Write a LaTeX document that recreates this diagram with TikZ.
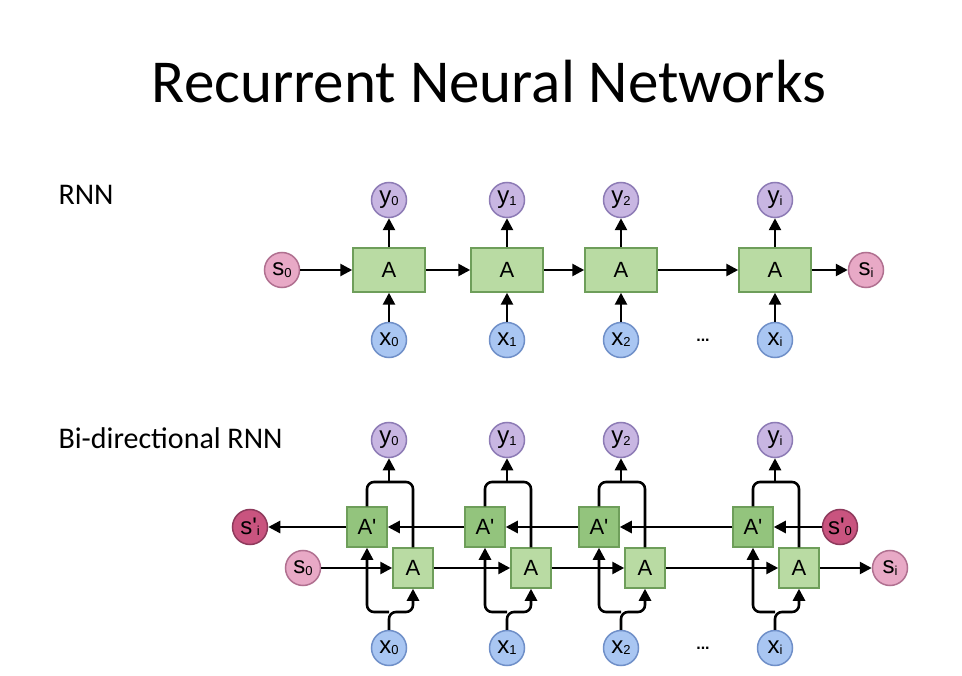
\documentclass[tikz,border=0pt]{standalone}
\usepackage{fontspec}
\setmainfont{Carlito}
\newfontfamily\nodefont{Liberation Sans}
\usetikzlibrary{positioning,arrows.meta}
\definecolor{cellA}{HTML}{B9DBA3}
\definecolor{cellAb}{HTML}{93C47D}
\definecolor{cellB}{HTML}{6E9E5A}
\definecolor{outc}{HTML}{C8B6E2}
\definecolor{outb}{HTML}{8D7BB5}
\definecolor{inc}{HTML}{A9C6F2}
\definecolor{inb}{HTML}{6F8FC8}
\definecolor{stc}{HTML}{E8A9C6}
\definecolor{stb}{HTML}{B07090}
\definecolor{stdc}{HTML}{C9547F}
\definecolor{stdb}{HTML}{8E3A5C}
\tikzset{
  cell/.style={draw=cellB,fill=cellA,line width=1.5pt,minimum width=72pt,minimum height=44pt,font=\nodefont\fontsize{22}{22}\selectfont,inner sep=0pt},
  bcell/.style={cell,minimum width=40pt,minimum height=40pt},
  bcellr/.style={bcell,fill=cellAb},
  outn/.style={circle,draw=outb,fill=outc,line width=1.5pt,minimum size=35pt,inner sep=0pt,font=\nodefont\fontsize{24}{24}\selectfont},
  inn/.style={outn,draw=inb,fill=inc},
  stn/.style={outn,draw=stb,fill=stc},
  stdn/.style={outn,draw=stdb,fill=stdc},
  link/.style={-{Triangle[length=12pt,width=12pt]},line width=2.6pt,rounded corners=7pt}
}
\newcommand{\sub}[1]{\raisebox{-0.1ex}{\fontsize{13}{13}\selectfont#1}}
\begin{document}
\begin{tikzpicture}[x=1pt,y=-1pt]
\useasboundingbox (0,0) rectangle (962,676);
\node[font=\fontsize{61}{61}\selectfont] (title) at (489,82) {Recurrent Neural Networks};
\node[font=\fontsize{30}{30}\selectfont,anchor=west] (lrnn) at (55,195) {RNN};
\node[font=\fontsize{30}{30}\selectfont,anchor=west] (lbi) at (55,438) {Bi-directional RNN};
% plain RNN
\foreach \c/\i in {389/0,507/1,621/2,775/i}{
  \node[cell] (a\i) at (\c,270) {A};
  \node[outn] (y\i) at (\c,200) {y\sub{\i}};
  \node[inn] (x\i) at (\c,340) {x\sub{\i}};
  \draw[link] (x\i) -- (a\i);
  \draw[link] (a\i) -- (y\i);
}
\node[stn] (s0) at (282,270) {s\sub{0}};
\node[stn] (si) at (866,270) {s\sub{i}};
\node[font=\nodefont\bfseries\fontsize{16}{16}\selectfont] (dots) at (703,340) {...};
\draw[link] (s0) -- (a0);
\draw[link] (a0) -- (a1);
\draw[link] (a1) -- (a2);
\draw[link] (a2) -- (ai);
\draw[link] (ai) -- (si);
% bi-directional RNN
\foreach \c/\i in {389/0,507/1,621/2,775/i}{
  \node[bcellr] (bb\i) at (\c-22,527) {A'};
  \node[bcell] (ba\i) at (\c+24,568) {A};
  \node[outn] (by\i) at (\c,440) {y\sub{\i}};
  \node[inn] (bx\i) at (\c,648) {x\sub{\i}};
  \coordinate (sp\i) at (\c,612);
  \coordinate (jn\i) at (\c,482);
  \draw[link] (bx\i) -- (sp\i) -| (ba\i);
  \draw[link] (sp\i) -| (bb\i);
  \draw[line width=2.6pt,rounded corners=7pt] (bb\i) |- (jn\i) -| (ba\i);
  \draw[link] (jn\i) -- (by\i);
}
\node[stdn] (bsl) at (250,527) {s'\sub{i}};
\node[stn] (bs0) at (303,568) {s\sub{0}};
\node[stdn] (bs0r) at (840,527) {s'\sub{0}};
\node[stn] (bsi) at (890,568) {s\sub{i}};
\node[font=\nodefont\bfseries\fontsize{16}{16}\selectfont] (bdots) at (703,648) {...};
\draw[link] (bs0) -- (ba0);
\draw[link] (ba0) -- (ba1);
\draw[link] (ba1) -- (ba2);
\draw[link] (ba2) -- (bai);
\draw[link] (bai) -- (bsi);
\draw[link] (bs0r) -- (bbi);
\draw[link] (bbi) -- (bb2);
\draw[link] (bb2) -- (bb1);
\draw[link] (bb1) -- (bb0);
\draw[link] (bb0) -- (bsl);
\end{tikzpicture}
\end{document}
